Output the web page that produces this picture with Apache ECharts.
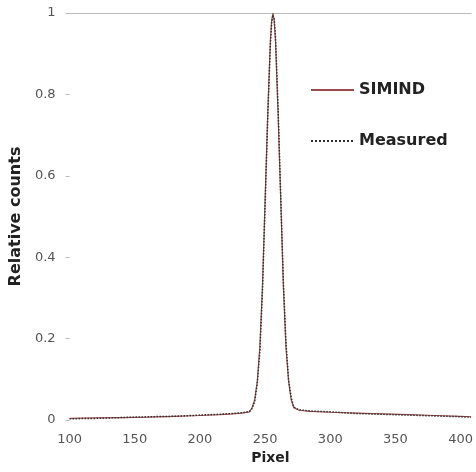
<!DOCTYPE html>
<html>
<head>
<meta charset="utf-8">
<script src="https://cdn.jsdelivr.net/npm/echarts@6/dist/echarts.min.js"></script>
<style>
  html, body { margin: 0; padding: 0; background: #fff; }
  #chart { width: 476px; height: 472px; }
</style>
</head>
<body>
<div id="chart"></div>
<script>
"use strict";
// pixel positions (x) and relative counts
var pixels   = [100, 120, 140, 160, 180, 200, 215, 225, 232, 238, 240, 242, 244, 246, 248, 250, 252, 254, 255, 256, 257, 258, 260, 262, 264, 266, 268, 270, 272, 276, 285, 300, 320, 340, 360, 380, 400, 408];
var simind   = [0.004, 0.005, 0.006, 0.007, 0.009, 0.011, 0.013, 0.015, 0.017, 0.02, 0.03, 0.05, 0.095, 0.18, 0.33, 0.54, 0.75, 0.93, 0.98, 1.0, 0.98, 0.93, 0.75, 0.54, 0.33, 0.18, 0.095, 0.05, 0.03, 0.024, 0.021, 0.019, 0.017, 0.015, 0.013, 0.011, 0.009, 0.008];
var measured = [0.003, 0.004, 0.006, 0.008, 0.009, 0.012, 0.014, 0.016, 0.018, 0.021, 0.028, 0.045, 0.09, 0.17, 0.32, 0.53, 0.74, 0.92, 0.975, 0.995, 0.985, 0.94, 0.76, 0.55, 0.34, 0.19, 0.1, 0.055, 0.032, 0.025, 0.022, 0.02, 0.016, 0.014, 0.012, 0.01, 0.008, 0.007];
var yTicks = [0, 0.2, 0.4, 0.6, 0.8, 1];

var font = "DejaVu Sans";

function pairs(xs, ys) {
    return xs.map(function (x, i) { return [x, ys[i]]; });
}

var chart = echarts.init(document.getElementById("chart"));
chart.setOption({
    backgroundColor: "#fff",
    animation: false,
    grid: { left: 68, right: 0, top: 13, bottom: 52 },
    legend: {
        orient: "vertical",
        left: 305,
        top: 77,
        itemGap: 35,
        itemWidth: 43,
        itemHeight: 14,
        itemStyle: { opacity: 0 },
        textStyle: { fontFamily: font, fontWeight: "bold", fontSize: 16, color: "#222" },
        data: ["SIMIND", "Measured"]
    },
    xAxis: [{
        type: "value",
        min: 100,
        max: 408,
        interval: 50,
        name: "Pixel",
        nameLocation: "middle",
        nameGap: 30,
        nameTextStyle: { fontFamily: font, fontWeight: "bold", fontSize: 14, color: "#222" },
        axisLine: { show: false },
        axisTick: { show: false },
        splitLine: { show: false },
        axisLabel: { showMaxLabel: false, margin: 13, fontFamily: font, fontSize: 13, color: "#555" }
    }, {
        type: "value",
        position: "top",
        min: 100,
        max: 408,
        axisLine: { show: true, lineStyle: { color: "#bbb", width: 1 } },
        axisTick: { show: false },
        axisLabel: { show: false },
        splitLine: { show: false }
    }],
    yAxis: {
        type: "value",
        min: 0,
        max: 1,
        interval: 0.2,
        name: "Relative counts",
        nameLocation: "middle",
        nameGap: 31,
        nameTextStyle: { fontFamily: font, fontWeight: "bold", fontSize: 16, color: "#222" },
        axisLine: { show: false },
        axisTick: { show: true, length: 4, lineStyle: { color: "#bbb" } },
        splitLine: { show: false },
        axisLabel: {
            margin: 14,
            fontFamily: font,
            fontSize: 13,
            color: "#555",
            formatter: function (v) { return yTicks.indexOf(+v.toFixed(1)) >= 0 ? String(+v.toFixed(1)) : ""; }
        }
    },
    series: [{
        name: "SIMIND",
        type: "line",
        symbol: "none",
        data: pairs(pixels, simind),
        lineStyle: { color: "#9a4a4a", width: 1.2, type: "solid" },
        itemStyle: { color: "#9a4a4a" }
    }, {
        name: "Measured",
        type: "line",
        symbol: "none",
        data: pairs(pixels, measured),
        lineStyle: { color: "#333", width: 1.5, type: "dotted" },
        itemStyle: { color: "#333" }
    }]
});
</script>
</body>
</html>
